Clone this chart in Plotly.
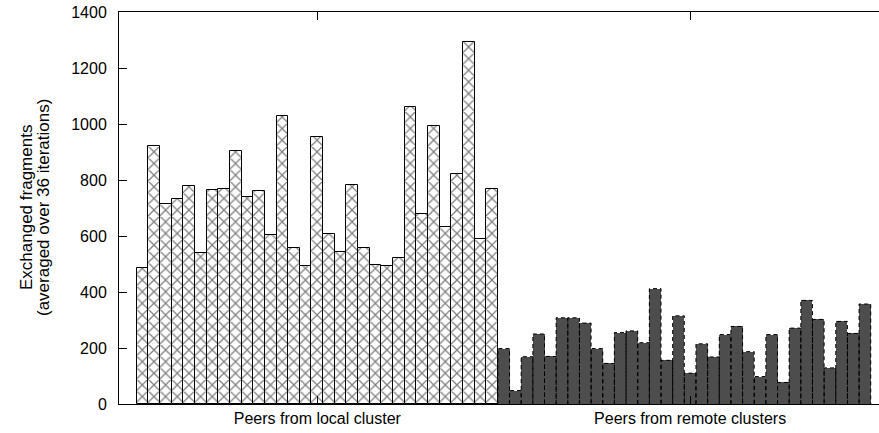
import plotly.graph_objects as go

local_values = [485, 920, 715, 733, 780, 540, 764, 769, 903, 738, 762, 605, 1027, 557, 492,
                955, 608, 542, 781, 558, 498, 494, 521, 1059, 680, 993, 632, 820, 1292, 588, 769]
remote_values = [198, 48, 169, 250, 170, 308, 308, 289, 198, 145, 255, 261, 219, 412, 156, 315,
                 110, 215, 168, 248, 277, 187, 98, 248, 77, 271, 370, 302, 129, 295, 252, 357]
group_labels = ["Peers from local cluster", "Peers from remote clusters"]
y_title_lines = ["Exchanged fragments", "(averaged over 36 iterations)"]

n_local = len(local_values)
n_remote = len(remote_values)
x_local = list(range(n_local))
x_remote = list(range(n_local, n_local + n_remote))
tick_pos = [(n_local - 1) / 2, n_local + n_remote / 2]

FONT = "Liberation Sans, Arial, sans-serif"
FS = 16

fig = go.Figure()
fig.add_trace(go.Bar(
    x=x_local, y=local_values, width=1,
    marker=dict(color="white",
                line=dict(color="black", width=1),
                pattern=dict(shape="x", fgcolor="black", bgcolor="white",
                             size=8.24, solidity=0.28, fillmode="overlay")),
    showlegend=False, hoverinfo="y"))
fig.add_trace(go.Bar(
    x=x_remote, y=remote_values, width=1,
    marker=dict(color="#4d4d4d", line=dict(color="#4d4d4d", width=0)),
    showlegend=False, hoverinfo="y"))

# dashed outlines of the remote bars, derived from the data
ox, oy = [], []
for xi, v in zip(x_remote, remote_values):
    ox += [xi - 0.5, xi - 0.5, xi + 0.5, xi + 0.5, None]
    oy += [0, v, v, 0, None]
fig.add_trace(go.Scatter(x=ox, y=oy, mode="lines",
                         line=dict(color="black", width=1, dash="4px,3px"),
                         showlegend=False, hoverinfo="skip"))

fig.update_layout(
    width=879, height=433,
    margin=dict(l=119, r=0, t=12, b=29),
    paper_bgcolor="white", plot_bgcolor="white",
    barmode="overlay", bargap=0,
    font=dict(family=FONT, size=FS, color="black"),
)
for i, line in enumerate(y_title_lines):
    fig.add_annotation(text=line, xref="paper", yref="paper", x=0, y=0.5,
                       xanchor="center", yanchor="middle", textangle=-90,
                       xshift=-93 + 17 * i, showarrow=False,
                       font=dict(family=FONT, size=17, color="black"))
fig.update_xaxes(
    range=[-2.02, 63.21],
    tickmode="array", tickvals=tick_pos, ticktext=group_labels,
    ticks="inside", ticklen=8, tickcolor="black", tickwidth=1,
    showline=True, linecolor="black", linewidth=1, mirror="ticks",
    showgrid=False, zeroline=False,
    ticklabelstandoff=0,
    tickfont=dict(family=FONT, size=FS, color="black"),
)
fig.update_yaxes(
    range=[0, 1400], dtick=200, tick0=0,
    ticks="inside", ticklen=8, tickcolor="black", tickwidth=1,
    showline=True, linecolor="black", linewidth=1, mirror=False,
    showgrid=False, zeroline=False,
    ticklabelstandoff=8,
    tickfont=dict(family=FONT, size=FS, color="black"),
)

fig.write_html("out.html")
